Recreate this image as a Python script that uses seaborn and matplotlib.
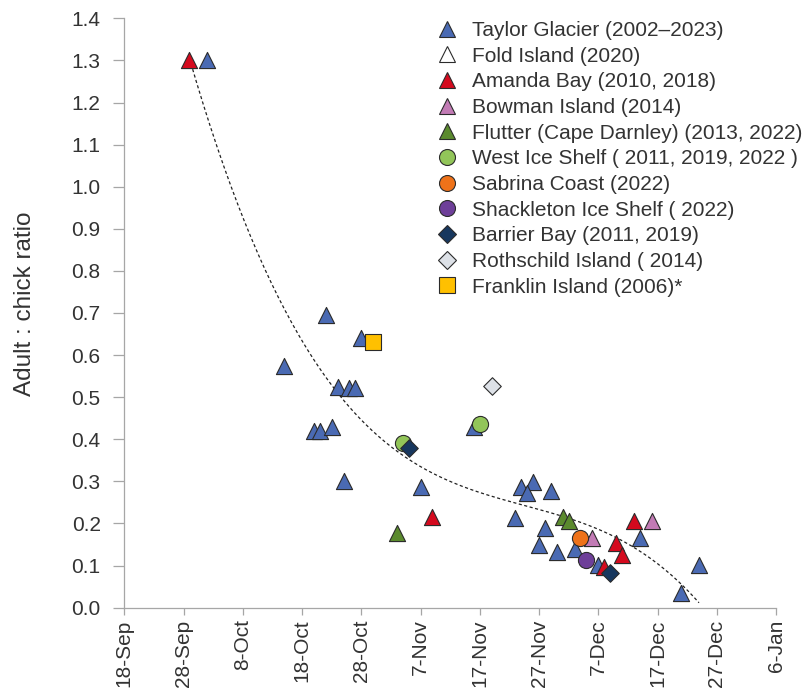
import numpy as np
import pandas as pd
import matplotlib
matplotlib.use("Agg")
import matplotlib.pyplot as plt
from matplotlib.lines import Line2D
from matplotlib.ticker import FormatStrFormatter
import seaborn as sns

# ---- data: emperor penguin colonies, adult:chick ratio by survey date ----
taylor_dates = ["2022-10-02", "2022-10-15", "2022-10-22", "2022-10-28", "2022-10-24",
                "2022-10-26", "2022-10-27", "2022-10-20", "2022-10-21", "2022-10-23",
                "2022-10-25", "2022-11-07", "2022-11-16", "2022-11-24", "2022-11-26",
                "2022-11-25", "2022-11-29", "2022-11-23", "2022-11-28", "2022-11-27",
                "2022-11-30", "2022-12-03", "2022-12-07", "2022-12-14", "2022-12-24",
                "2022-12-21"]
taylor_ratio = [1.30, 0.574, 0.695, 0.64, 0.525,
                0.523, 0.522, 0.42, 0.42, 0.43,
                0.30, 0.286, 0.428, 0.287, 0.298,
                0.273, 0.276, 0.214, 0.189, 0.149,
                0.133, 0.139, 0.101, 0.165, 0.101,
                0.034]

fold_dates = []
fold_ratio = []

amanda_dates = ["2022-09-29", "2022-11-09", "2022-12-08", "2022-12-10", "2022-12-11", "2022-12-13"]
amanda_ratio = [1.30, 0.216, 0.097, 0.154, 0.125, 0.206]

bowman_dates = ["2022-12-06", "2022-12-16"]
bowman_ratio = [0.165, 0.206]

flutter_dates = ["2022-11-03", "2022-12-01", "2022-12-02"]
flutter_ratio = [0.177, 0.215, 0.207]

west_dates = ["2022-11-04", "2022-11-17"]
west_ratio = [0.39, 0.436]

sabrina_dates = ["2022-12-04"]
sabrina_ratio = [0.165]

shackleton_dates = ["2022-12-05"]
shackleton_ratio = [0.113]

barrier_dates = ["2022-11-05", "2022-12-09"]
barrier_ratio = [0.38, 0.082]

rothschild_dates = ["2022-11-19"]
rothschild_ratio = [0.527]

franklin_dates = ["2022-10-30"]
franklin_ratio = [0.63]

site_labels = ["Taylor Glacier (2002\u20132023)", "Fold Island (2020)", "Amanda Bay (2010, 2018)",
               "Bowman Island (2014)", "Flutter (Cape Darnley) (2013, 2022)",
               "West Ice Shelf ( 2011, 2019, 2022 )", "Sabrina Coast (2022)",
               "Shackleton Ice Shelf ( 2022)", "Barrier Bay (2011, 2019)",
               "Rothschild Island ( 2014)", "Franklin Island (2006)*"]
site_dates = [taylor_dates, fold_dates, amanda_dates, bowman_dates, flutter_dates,
              west_dates, sabrina_dates, shackleton_dates, barrier_dates,
              rothschild_dates, franklin_dates]
site_ratios = [taylor_ratio, fold_ratio, amanda_ratio, bowman_ratio, flutter_ratio,
               west_ratio, sabrina_ratio, shackleton_ratio, barrier_ratio,
               rothschild_ratio, franklin_ratio]

# ---- styling per site ----
site_colors = ["#4A6AB3", "#FFFFFF", "#D40A1E", "#C27BB5", "#5B8A2E", "#92C559",
               "#EE7219", "#6E3F99", "#17375E", "#DDE1E7", "#FFC000"]
site_markers = ["^", "^", "^", "^", "^", "o", "o", "o", "D", "D", "s"]
site_sizes = [135, 135, 135, 135, 135, 135, 135, 135, 80, 80, 125]

sns.set_theme(style="white")
plt.rcParams["font.family"] = ["Liberation Sans", "DejaVu Sans"]
text_color = "#333333"
axis_color = "#A6A6A6"

fig = plt.figure(figsize=(8.06, 6.94), dpi=100)
ax = fig.add_axes([0.1542, 0.1244, 0.9628 - 0.1542, 0.9736 - 0.1244])

frames = []
for label, dts, vals in zip(site_labels, site_dates, site_ratios):
    frames.append(pd.DataFrame({"site": label, "date": pd.to_datetime(dts), "ratio": vals}))
df = pd.concat(frames, ignore_index=True)

# cubic trend line across all colonies
day0 = pd.Timestamp("2022-09-18")
days = (df["date"] - day0).dt.days.to_numpy(dtype=float)
coef = np.polyfit(days, df["ratio"].to_numpy(), 3)
trend_days = np.linspace(days.min(), days.max(), 300)
trend = pd.DataFrame({"date": day0 + pd.to_timedelta(trend_days, unit="D"),
                      "ratio": np.polyval(coef, trend_days)})
sns.lineplot(data=trend, x="date", y="ratio", ax=ax, color="#222222",
             linewidth=0.9, linestyle=(0, (2.5, 2.0)), zorder=1)

for label, color, marker, size in zip(site_labels, site_colors, site_markers, site_sizes):
    sub = df[df["site"] == label]
    if sub.empty:
        continue
    sns.scatterplot(data=sub, x="date", y="ratio", ax=ax, color=color, marker=marker,
                    s=size, edgecolor="#2B2B2B", linewidth=0.8, zorder=3, legend=False)

# axes
ax.set_xlim(pd.Timestamp("2022-09-18"), pd.Timestamp("2023-01-06"))
ax.set_ylim(0, 1.4)
ax.set_yticks(np.arange(0, 1.41, 0.1))
ax.yaxis.set_major_formatter(FormatStrFormatter("%.1f"))
xticks = pd.date_range("2022-09-18", "2023-01-06", freq="10D")
ax.set_xticks(xticks)
ax.set_xticklabels([f"{d.day}-{d.strftime('%b')}" for d in xticks], rotation=90)

for side in ["top", "right"]:
    ax.spines[side].set_visible(False)
for side in ["left", "bottom"]:
    ax.spines[side].set_color(axis_color)
    ax.spines[side].set_linewidth(0.9)
ax.tick_params(axis="y", direction="out", length=8, width=0.9, color=axis_color,
               labelsize=15, labelcolor=text_color, pad=9, left=True)
ax.tick_params(axis="x", direction="out", length=5, width=0.9, color=axis_color,
               labelsize=15, labelcolor=text_color, pad=3.5, bottom=True)
ax.set_xlabel("")
ax.set_ylabel("Adult : chick ratio", fontsize=17.5, color=text_color, labelpad=25)
ax.yaxis.set_label_coords(-0.135, 0.515)
ax.grid(False)

# legend
handles = [Line2D([], [], linestyle="none", marker=m, markersize=(11.5 if m != "D" else 9.5),
                  markerfacecolor=c, markeredgecolor="#2B2B2B", markeredgewidth=0.8)
           for m, c in zip(site_markers, site_colors)]
leg = fig.legend(handles, site_labels, loc="upper left",
                 bbox_to_anchor=(437 / 806, 1 - 21 / 694), frameon=False,
                 fontsize=15, handlelength=0.95, handletextpad=0.72,
                 labelspacing=0.32, borderpad=0, borderaxespad=0)
for t in leg.get_texts():
    t.set_color(text_color)

fig.savefig("out.png", dpi=100)
